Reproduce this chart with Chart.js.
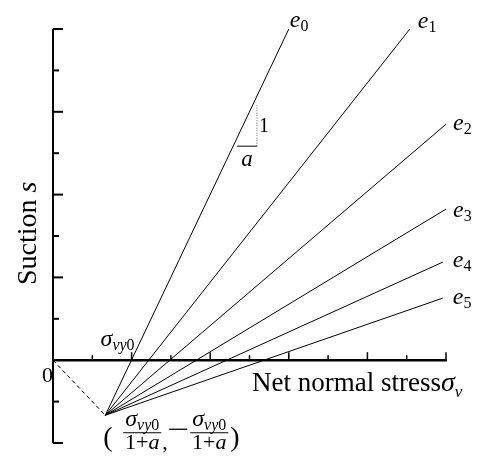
<!DOCTYPE html>
<html>
<head>
<meta charset="utf-8">
<script src="https://cdn.jsdelivr.net/npm/chart.js@4.4.1/dist/chart.umd.min.js"></script>
<style>
  html, body { margin: 0; padding: 0; background: #fff; }
  canvas { display: block; }
</style>
</head>
<body>
<canvas id="chart" width="483" height="458" style="width:483px;height:458px"></canvas>
<script>
// ================================
// DATA
// ================================
const xTicks = [0, 1, 2, 3, 4, 5, 6, 7, 8, 9, 10];
const yTicks = [-2, -1, 0, 1, 2, 3, 4, 5, 6, 7, 8];

// common point (σvy0/(1+a), -σvy0/(1+a))
const focusX = 1.33;
const focusY = -1.33;

// e0 ... e5 lines, end points
const lineNames = ["0", "1", "2", "3", "4", "5"];
const lineEndX = [6.0, 9.08, 10, 10, 9.92, 9.92];
const lineEndY = [8.0, 8.0, 5.7, 3.65, 2.37, 1.5];

// σvy0 on the stress axis
const yieldX = 2;

// slope triangle (1 : a) on e0
const slopeBaseX = [4.68, 5.19];
const slopeBaseY = [5.17, 5.17];
const slopeSideX = [5.19, 5.19];
const slopeSideY = [5.17, 6.18];

// ---- label offsets in px (style only) ----
const labelOffsets = [[1, -2], [8, -1], [7, 6], [7, 8], [10, 5], [10, 6]];

const SERIF = '"Liberation Serif", "Times New Roman", serif';

// ================================
// DATASETS
// ================================
const datasets = [];

lineNames.forEach((name, i) => {
  datasets.push({
    label: "e" + name,
    data: [{ x: focusX, y: focusY }, { x: lineEndX[i], y: lineEndY[i] }],
    borderColor: "#000",
    borderWidth: 1,
    pointRadius: 0,
    showLine: true
  });
});

datasets.push({
  label: "origin",
  data: [{ x: 0, y: 0 }, { x: focusX, y: focusY }],
  borderColor: "#000",
  borderWidth: 1,
  borderDash: [4, 3],
  pointRadius: 0,
  showLine: true
});

datasets.push({
  label: "slopeBase",
  data: slopeBaseX.map((v, i) => ({ x: v, y: slopeBaseY[i] })),
  borderColor: "#000",
  borderWidth: 1,
  pointRadius: 0,
  showLine: true
});

datasets.push({
  label: "slopeSide",
  data: slopeSideX.map((v, i) => ({ x: v, y: slopeSideY[i] })),
  borderColor: "#666",
  borderWidth: 1,
  borderDash: [1, 1.5],
  pointRadius: 0,
  showLine: true
});

// ================================
// TEXT HELPERS
// ================================
function drawParts(ctx, parts, x, y) {
  let cx = x;
  parts.forEach(p => {
    ctx.font = p.font;
    ctx.fillText(p.t, cx, y + (p.dy || 0));
    cx += ctx.measureText(p.t).width + (p.gap || 0);
  });
  return cx - x;
}

function partsWidth(ctx, parts) {
  let w = 0;
  parts.forEach(p => {
    ctx.font = p.font;
    w += ctx.measureText(p.t).width + (p.gap || 0);
  });
  return w;
}

function sigmaVy0(size) {
  return [
    { t: "σ", font: "italic " + size + "px " + SERIF },
    { t: "vy", font: "italic " + Math.round(size * 0.66) + "px " + SERIF, dy: 4 },
    { t: "0", font: Math.round(size * 0.66) + "px " + SERIF, dy: 4 }
  ];
}

// ================================
// AXES + ANNOTATIONS PLUGIN
// ================================
const axesPlugin = {
  id: "axesPlugin",
  afterDatasetsDraw(chart) {
    const { ctx, scales: { x, y } } = chart;
    const x0 = x.getPixelForValue(0);
    const y0 = y.getPixelForValue(0);

    ctx.save();
    ctx.strokeStyle = "#000";
    ctx.fillStyle = "#000";
    ctx.lineCap = "butt";

    // ---- Y AXIS ----
    ctx.lineWidth = 2;
    ctx.beginPath();
    ctx.moveTo(x0, y.getPixelForValue(yTicks[yTicks.length - 1]));
    ctx.lineTo(x0, y.getPixelForValue(yTicks[0]));
    ctx.stroke();
    yTicks.forEach(v => {
      if (v === 0) return;
      const py = y.getPixelForValue(v);
      const len = v % 2 === 0 ? 10 : 6;
      ctx.beginPath();
      ctx.moveTo(x0, py);
      ctx.lineTo(x0 + len, py);
      ctx.stroke();
    });

    // ---- X AXIS ----
    ctx.lineWidth = 2.5;
    ctx.beginPath();
    ctx.moveTo(x0, y0);
    ctx.lineTo(x.getPixelForValue(xTicks[xTicks.length - 1]) + 1, y0);
    ctx.stroke();
    ctx.lineWidth = 1.5;
    xTicks.forEach(v => {
      if (v === 0) return;
      const px = x.getPixelForValue(v);
      const len = v % 2 === 0 ? 8 : 5;
      ctx.beginPath();
      ctx.moveTo(px, y0);
      ctx.lineTo(px, y0 - len);
      ctx.stroke();
    });

    // ---- LINE LABELS e0..e5 ----
    ctx.textAlign = "left";
    ctx.textBaseline = "alphabetic";
    lineNames.forEach((name, i) => {
      const px = x.getPixelForValue(lineEndX[i]) + labelOffsets[i][0];
      const py = y.getPixelForValue(lineEndY[i]) + labelOffsets[i][1];
      drawParts(ctx, [
        { t: "e", font: "italic 24px " + SERIF },
        { t: name, font: "16px " + SERIF, dy: 4 }
      ], px, py);
    });

    // ---- SLOPE TRIANGLE TEXT ----
    const sx = x.getPixelForValue(slopeSideX[0]);
    const sTop = y.getPixelForValue(slopeSideY[1]);
    const sBot = y.getPixelForValue(slopeSideY[0]);
    ctx.font = "20px " + SERIF;
    ctx.fillText("1", sx + 2, (sTop + sBot) / 2 + 7);
    ctx.font = "italic 23px " + SERIF;
    ctx.textAlign = "center";
    ctx.fillText("a", (x.getPixelForValue(slopeBaseX[0]) + sx) / 2, sBot + 20);
    ctx.textAlign = "left";

    // ---- σvy0 ON AXIS ----
    const sParts = sigmaVy0(24);
    const sw = partsWidth(ctx, sParts);
    drawParts(ctx, sParts, x.getPixelForValue(yieldX) - sw + 3, y0 - 14);

    // ---- ORIGIN "0" ----
    ctx.font = "22px " + SERIF;
    ctx.textAlign = "right";
    ctx.fillText("0", x0, y0 + 22);
    ctx.textAlign = "left";

    // ---- COORDINATE OF COMMON POINT ----
    const fx = x.getPixelForValue(focusX);
    const fy = y.getPixelForValue(focusY);
    ctx.font = "28px " + SERIF;
    ctx.fillText("(", fx - 2, fy + 31);
    const drawFrac = (cx) => {
      const num = sigmaVy0(24);
      const nw = partsWidth(ctx, num);
      drawParts(ctx, num, cx - nw / 2, fy + 11);
      ctx.lineWidth = 1;
      ctx.beginPath();
      ctx.moveTo(cx - 19, fy + 17.5);
      ctx.lineTo(cx + 19, fy + 17.5);
      ctx.stroke();
      const den = [
        { t: "1+", font: "22px " + SERIF },
        { t: "a", font: "italic 22px " + SERIF }
      ];
      const dw = partsWidth(ctx, den);
      drawParts(ctx, den, cx - dw / 2, fy + 34);
    };
    drawFrac(fx + 37);
    ctx.font = "22px " + SERIF;
    ctx.fillText(",", fx + 57, fy + 34);
    ctx.lineWidth = 1.3;
    ctx.beginPath();
    ctx.moveTo(fx + 64, fy + 14);
    ctx.lineTo(fx + 82, fy + 14);
    ctx.stroke();
    drawFrac(fx + 104);
    ctx.font = "28px " + SERIF;
    ctx.fillText(")", fx + 125, fy + 31);

    // ---- AXIS TITLES ----
    const xt = [
      { t: "Net normal stress", font: "27px " + SERIF },
      { t: "σ", font: "italic 28px " + SERIF },
      { t: "v", font: "italic 17px " + SERIF, dy: 6 }
    ];
    drawParts(ctx, xt, 252, y0 + 31);

    ctx.translate(36, 285);
    ctx.rotate(-Math.PI / 2);
    drawParts(ctx, [
      { t: "Suction ", font: "28px " + SERIF },
      { t: "s", font: "italic 28px " + SERIF }
    ], 0, 0);

    ctx.restore();
  }
};

// ================================
// CHART
// ================================
new Chart(document.getElementById("chart"), {
  type: "scatter",
  data: { datasets: datasets },
  options: {
    responsive: false,
    animation: false,
    clip: false,
    layout: { padding: { left: 53, right: 37, top: 29, bottom: 15 } },
    plugins: {
      legend: { display: false },
      tooltip: { enabled: false }
    },
    scales: {
      x: { type: "linear", min: 0, max: 10, display: false },
      y: { type: "linear", min: -2, max: 8, display: false }
    }
  },
  plugins: [axesPlugin]
});
</script>
</body>
</html>
